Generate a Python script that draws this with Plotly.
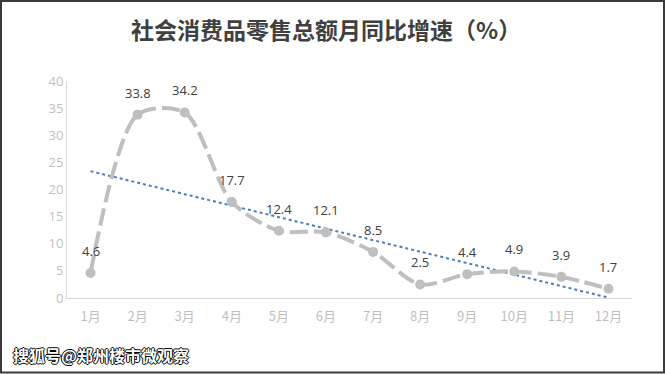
import numpy as np
import plotly.graph_objects as go

months = ["1月", "2月", "3月", "4月", "5月", "6月", "7月", "8月", "9月", "10月", "11月", "12月"]
growth = [4.6, 33.8, 34.2, 17.7, 12.4, 12.1, 8.5, 2.5, 4.4, 4.9, 3.9, 1.7]
title_text = "社会消费品零售总额月同比增速（%）"
watermark = "搜狐号@郑州楼市微观察"

W, H = 665, 374
ML, MR, MT, MB = 67, 33, 81, 76
pw, ph = W - ML - MR, H - MT - MB

# linear trend line (Excel-style)
xs = np.arange(1, len(growth) + 1)
k, b = np.polyfit(xs, growth, 1)
trend = list(k * xs + b)

fig = go.Figure()
fig.add_trace(go.Scatter(
    x=months, y=trend, mode="lines",
    line=dict(color="#4a7ebb", width=2, dash="dot"),
    hoverinfo="skip", showlegend=False))
fig.add_trace(go.Scatter(
    x=months, y=growth, mode="lines+markers",
    line=dict(color="#bfbfbf", width=4, dash="18px,6px", shape="spline", smoothing=0.8),
    marker=dict(color="#bfbfbf", size=10),
    showlegend=False))

for m, v in zip(months, growth):
    fig.add_annotation(x=m, y=v, text=f"{v}", showarrow=False, yshift=22,
                       font=dict(size=13, color="#404040", family="Open Sans, Noto Sans CJK SC"))

def px_to_paper_x(p):
    return (p - ML) / pw

def px_to_paper_y(p):
    return (H - MB - p) / ph

fig.add_annotation(xref="paper", yref="paper", x=px_to_paper_x(326), y=px_to_paper_y(29),
                   text=f"<b>{title_text}</b>", showarrow=False, xanchor="center", yanchor="middle",
                   font=dict(size=23, color="#404040", family="Noto Sans CJK SC"))
fig.add_annotation(xref="paper", yref="paper", x=px_to_paper_x(11), y=px_to_paper_y(355),
                   text=f"<b>{watermark}</b>", showarrow=False, xanchor="left", yanchor="middle",
                   font=dict(size=16, color="white", family="Noto Sans CJK SC",
                             shadow="1px 0 0 #000, -1px 0 0 #000, 0 1px 0 #000, 0 -1px 0 #000"))

fig.add_shape(type="rect", xref="paper", yref="paper",
              x0=px_to_paper_x(1), x1=px_to_paper_x(664),
              y0=px_to_paper_y(372.5), y1=px_to_paper_y(1),
              line=dict(color="#3a3a3a", width=2), layer="above")

fig.update_layout(
    width=W, height=H,
    margin=dict(l=ML, r=MR, t=MT, b=MB),
    paper_bgcolor="white", plot_bgcolor="white",
    font=dict(family="Open Sans, Noto Sans CJK SC", size=12, color="#bfbfbf"),
    xaxis=dict(type="category", range=[-0.5, 11.5], showgrid=False, zeroline=False,
               showline=True, linecolor="#d9d9d9", linewidth=1, ticks="",
               ticklabelstandoff=6,
               tickfont=dict(size=13, color="#bfbfbf", family="Noto Sans CJK SC")),
    yaxis=dict(range=[0, 40], dtick=5, showgrid=False, zeroline=False,
               showline=True, linecolor="#d9d9d9", linewidth=1, ticks="",
               tickfont=dict(size=13, color="#bfbfbf")),
)

fig.write_html("out.html", config={"displayModeBar": False},
               post_script="document.body.style.margin='0';document.body.style.overflow='hidden';")
